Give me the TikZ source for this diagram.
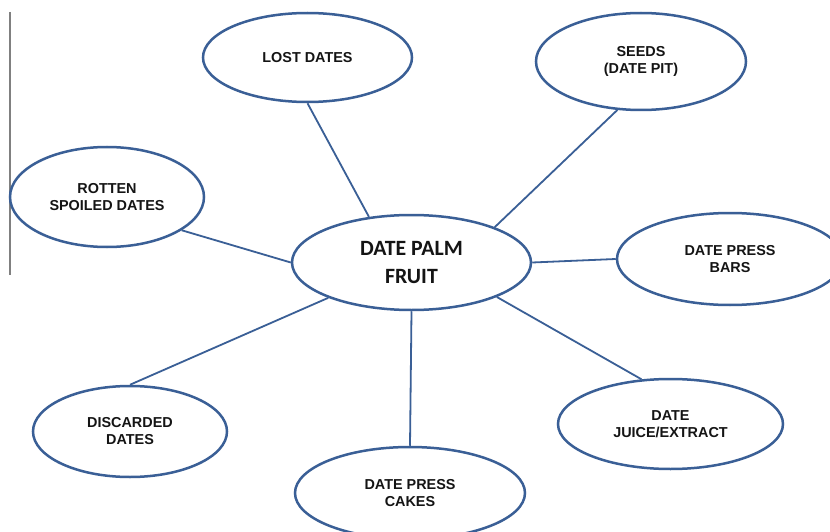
\documentclass[tikz,border=0pt]{standalone}
\usepackage{fontspec}
\setmainfont{Liberation Sans}
\newfontfamily\centerfont{Carlito}
\usetikzlibrary{shapes.geometric}
\definecolor{edgeblue}{RGB}{58,95,150}
\definecolor{textblack}{RGB}{20,20,20}
\begin{document}
\begin{tikzpicture}[x=1pt,y=-1pt,
  bubble/.style={ellipse, draw=edgeblue, line width=2.5pt, fill=white, inner sep=0pt,
     align=center, text=textblack, font=\bfseries\fontsize{14.4}{17}\selectfont},
  hub/.style={bubble, font=\centerfont\bfseries\fontsize{21.8}{28}\selectfont},
  link/.style={draw=edgeblue, line width=1.8pt}]
\useasboundingbox (0,0) rectangle (830,532);
\fill[white] (0,0) rectangle (830,532);
\coordinate (gtop) at (10,12);
\coordinate (gbot) at (10,275);
\draw[gray, line width=1.5pt] (gtop) -- (gbot);

\node[hub, minimum width=239pt, minimum height=95pt] (c) at (411.5,262.5) {DATE PALM\\FRUIT};
\node[bubble, minimum width=209pt, minimum height=89pt] (lost) at (307.5,57.5) {LOST DATES};
\node[bubble, minimum width=210pt, minimum height=97pt] (seeds) at (641,61.5) {SEEDS\\(DATE PIT)};
\node[bubble, minimum width=194pt, minimum height=100pt] (rotten) at (107,197) {ROTTEN\\SPOILED DATES};
\node[bubble, minimum width=226pt, minimum height=92pt] (bars) at (730,259) {DATE PRESS\\BARS};
\node[bubble, minimum width=194pt, minimum height=91pt] (disc) at (130,431.5) {DISCARDED\\DATES};
\node[bubble, minimum width=230pt, minimum height=92pt] (cakes) at (410,493) {DATE PRESS\\CAKES};
\node[bubble, minimum width=225pt, minimum height=90pt] (juice) at (670.5,424) {DATE\\JUICE/EXTRACT};

\draw[link] (lost.south) -- (c.133.8);
\draw[link] (seeds.-116.3) -- (c.23);
\draw[link] (rotten.-24.9) -- (c.west);
\draw[link] (bars.west) -- (c.east);
\draw[link] (disc.north) -- (c.-157.1);
\draw[link] (cakes.north) -- (c.south);
\draw[link] (juice.123.2) -- (c.-22.8);
\end{tikzpicture}
\end{document}
